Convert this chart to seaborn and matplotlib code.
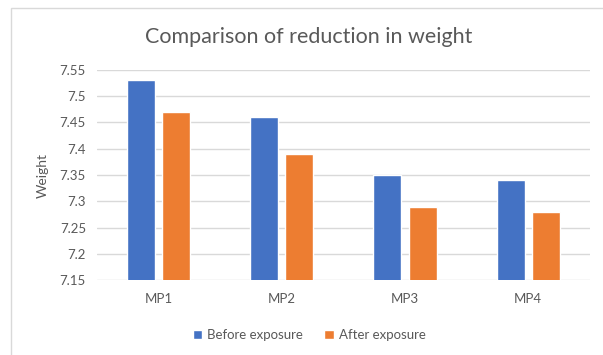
import pandas as pd
import matplotlib
matplotlib.use("Agg")
import matplotlib.pyplot as plt
from matplotlib.patches import Rectangle
import seaborn as sns

# Chart data
samples = ["MP1", "MP2", "MP3", "MP4"]
before = [7.53, 7.46, 7.35, 7.34]
after = [7.47, 7.39, 7.29, 7.28]
series = ["Before exposure", "After exposure"]
yticks = [7.15, 7.2, 7.25, 7.3, 7.35, 7.4, 7.45, 7.5, 7.55]

df = pd.DataFrame({
    "sample": samples * 2,
    "weight": before + after,
    "series": [series[0]] * len(samples) + [series[1]] * len(samples),
})

sns.set_theme(style="white")
plt.rcParams["font.family"] = ["Lato", "DejaVu Sans"]
text_col = "#595959"

fig = plt.figure(figsize=(6.03, 3.55), dpi=100)
ax = fig.add_axes([0.161, 0.211, 0.817, 0.592])

sns.barplot(data=df, x="sample", y="weight", hue="series",
            palette=["#4472C4", "#ED7D31"], saturation=1,
            width=0.57, gap=0.2, ax=ax, zorder=3)

ax.set_ylim(7.15, 7.55)
ax.set_yticks(yticks)
ax.set_yticklabels([f"{t:g}" for t in yticks])
ax.yaxis.grid(True, color="#D9D9D9", linewidth=1, zorder=0)
for s in ax.spines.values():
    s.set_visible(False)
ax.tick_params(axis="both", length=0, colors=text_col, labelsize=9.5)
ax.tick_params(axis="x", pad=9)
ax.tick_params(axis="y", pad=8)
ax.set_xlabel("")
ax.set_ylabel("Weight", color=text_col, fontsize=10, labelpad=8)

fig.suptitle("Comparison of reduction in weight", color=text_col,
             fontsize=15.5, x=0.512, y=0.895, va="center")

handles, labels = ax.get_legend_handles_labels()
ax.get_legend().remove()
leg = fig.legend(handles, labels, loc="center", bbox_to_anchor=(0.513, 0.055),
                 ncol=2, frameon=False, fontsize=9.5, handlelength=0.7,
                 handleheight=0.7, columnspacing=1.6, handletextpad=0.4)
for t in leg.get_texts():
    t.set_color(text_col)

# chart area border
fig.patches.append(Rectangle((11 / 603, -0.1), 1.2, 1.1 - 8 / 355,
                             transform=fig.transFigure, fill=False,
                             edgecolor="#D9D9D9", linewidth=1))

fig.savefig("out.png", dpi=100, facecolor="white")
